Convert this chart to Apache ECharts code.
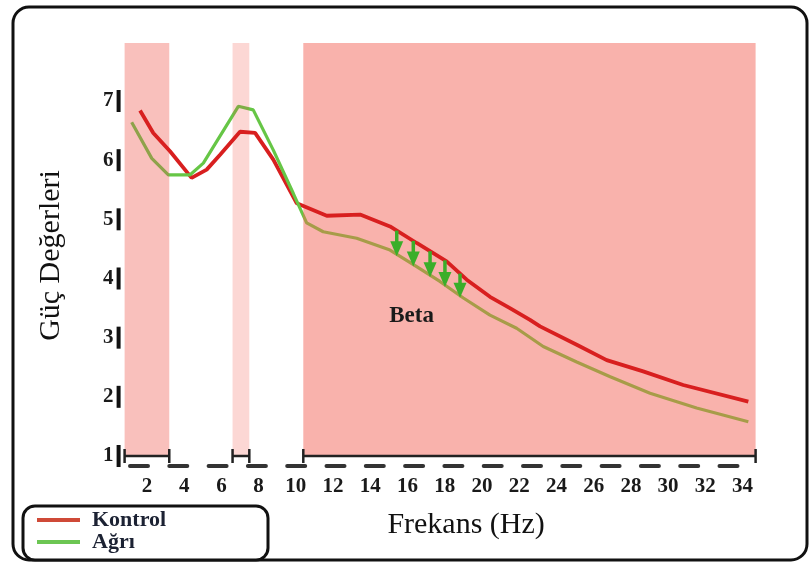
<!DOCTYPE html>
<html>
<head>
<meta charset="utf-8">
<script src="https://cdn.jsdelivr.net/npm/echarts@6/dist/echarts.min.js"></script>
<style>
  html, body { margin: 0; padding: 0; background: #fff; }
  #chart { width: 810px; height: 567px; }
</style>
</head>
<body>
<div id="chart"></div>
<script>
// Spectral power (Güç) against frequency for the control and pain groups
const kontrolHz  = [1.63, 2.34, 3.24, 4.40, 5.21, 5.93, 7.00, 7.81, 8.79, 10.05, 11.66, 13.45, 15.06, 16.49, 18.10, 19.18, 20.43, 21.50, 22.58, 23.12, 25.09, 26.70, 28.66, 30.81, 34.31];
const kontrolGuc = [6.84, 6.46, 6.15, 5.70, 5.84, 6.09, 6.48, 6.46, 6.01, 5.27, 5.06, 5.08, 4.88, 4.60, 4.29, 3.98, 3.69, 3.50, 3.30, 3.19, 2.88, 2.62, 2.43, 2.20, 1.92];
const agriHz  = [1.18, 2.26, 3.15, 4.31, 5.03, 6.91, 7.71, 8.79, 9.86, 10.58, 11.47, 13.27, 15.06, 16.49, 17.74, 19.00, 20.43, 21.86, 23.29, 25.09, 26.89, 29.03, 31.53, 34.31];
const agriGuc = [6.64, 6.03, 5.75, 5.75, 5.95, 6.91, 6.85, 6.17, 5.44, 4.94, 4.79, 4.68, 4.48, 4.20, 3.95, 3.67, 3.38, 3.16, 2.85, 2.59, 2.34, 2.06, 1.81, 1.58];

// Frequency bands (Hz) shaded on the plot
const bandStartHz = [0.8, 6.6, 10.4];
const bandEndHz   = [3.2, 7.5, 34.7];

// Frequencies where the drop from Kontrol to Ağrı is marked with arrows
const arrowHz = [15.42, 16.31, 17.21, 18.01, 18.82];

// Band annotation
const betaLabel = 'Beta';
const betaHz = 16.22;
const betaGuc = 3.37;

// Axis ticks
const xTicks = [2, 4, 6, 8, 10, 12, 14, 16, 18, 20, 22, 24, 26, 28, 30, 32, 34];
const yTicks = [1, 2, 3, 4, 5, 6, 7];

const X_MIN = 0.8, X_MAX = 34.7;
const Y_MIN = 1, Y_MAX = 7.98;

const SERIF = "'Liberation Serif', 'Times New Roman', serif";
const bandColors = ['#f9c0bc', '#fcd7d4', '#f9b2ac'];
const RED = '#d81f1f';
const GREEN = '#66c646';
const ARROW = '#3aae2a';

function interp(xs, ys, x) {
  for (let i = 0; i < xs.length - 1; i++) {
    if (x >= xs[i] && x <= xs[i + 1]) {
      const t = (x - xs[i]) / (xs[i + 1] - xs[i]);
      return ys[i] + t * (ys[i + 1] - ys[i]);
    }
  }
  return ys[ys.length - 1];
}

const kontrolData = kontrolHz.map((x, i) => [x, kontrolGuc[i]]);
const agriData = agriHz.map((x, i) => [x, agriGuc[i]]);
const bandData = bandStartHz.map((s, i) => [s, bandEndHz[i]]);
const arrowData = arrowHz.map(f => [f, interp(kontrolHz, kontrolGuc, f), interp(agriHz, agriGuc, f)]);

const chart = echarts.init(document.getElementById('chart'), null, { renderer: 'canvas' });

chart.setOption({
  animation: false,
  backgroundColor: '#fff',
  grid: { left: 124.6, right: 54.4, top: 43, bottom: 111, containLabel: false },
  xAxis: {
    type: 'value',
    min: X_MIN,
    max: X_MAX,
    offset: 10,
    axisLine: { show: true, lineStyle: { color: '#333', width: 4, type: [18, 21.3], dashOffset: 33.9 } },
    axisTick: { show: false },
    splitLine: { show: false },
    axisLabel: {
      customValues: xTicks,
      margin: 10,
      fontFamily: SERIF,
      fontWeight: 'bold',
      fontSize: 21,
      color: '#1a1a1a'
    },
    name: 'Frekans (Hz)',
    nameLocation: 'middle',
    nameGap: 44,
    nameTextStyle: { fontFamily: SERIF, fontSize: 30, color: '#111', padding: [0, 0, 0, 52] }
  },
  yAxis: {
    type: 'value',
    min: Y_MIN,
    max: Y_MAX,
    axisLine: { show: false },
    axisTick: { show: false },
    splitLine: { show: false },
    axisLabel: {
      customValues: yTicks,
      margin: 4,
      formatter: v => `{n|${v}}{b| }`,
      rich: {
        n: { fontFamily: SERIF, fontWeight: 'bold', fontSize: 21, color: '#1a1a1a', padding: [0, 3, 0, 0], verticalAlign: 'middle' },
        b: { width: 4, height: 22, backgroundColor: '#111', verticalAlign: 'middle' }
      }
    },
    name: 'Güç Değerleri',
    nameLocation: 'middle',
    nameGap: 58,
    nameTextStyle: { fontFamily: SERIF, fontSize: 30, color: '#111', padding: [0, 12, 0, 0] }
  },
  legend: {
    orient: 'vertical',
    left: 37,
    top: 509,
    padding: 0,
    itemGap: 0,
    itemWidth: 43,
    itemHeight: 4,
    icon: 'rect',
    z: 5,
    textStyle: { fontFamily: SERIF, fontWeight: 'bold', fontSize: 22, color: '#1c2233', padding: [0, 0, 0, 7] },
    data: [
      { name: 'Kontrol', itemStyle: { color: '#cf4a38' } },
      { name: 'Ağrı', itemStyle: { color: '#6cc653' } }
    ]
  },
  visualMap: {
    type: 'piecewise',
    show: false,
    seriesIndex: 2,
    dimension: 0,
    pieces: [
      { lt: 3.2, color: '#8fa24a' },
      { gte: 3.2, lt: 6.6, color: GREEN },
      { gte: 6.6, lt: 7.5, color: '#7fae45' },
      { gte: 7.5, lt: 10.4, color: GREEN },
      { gte: 10.4, color: '#a79c48' }
    ]
  },
  graphic: [
    { type: 'rect', z: 0, silent: true, shape: { x: 13, y: 7, width: 794, height: 553, r: 16 },
      style: { fill: 'none', stroke: '#111', lineWidth: 3 } },
    { type: 'rect', z: 0, silent: true, shape: { x: 23, y: 506, width: 245, height: 54, r: 12 },
      style: { fill: '#fff', stroke: '#111', lineWidth: 3 } }
  ],
  series: [
    {
      // shaded bands with brackets along the frequency axis
      type: 'custom',
      name: 'bands',
      z: 1,
      clip: false,
      silent: true,
      encode: { x: [0, 1] },
      data: bandData,
      renderItem: (params, api) => {
        const tl = api.coord([api.value(0), Y_MAX]);
        const br = api.coord([api.value(1), Y_MIN]);
        const y = br[1];
        const cap = 7;
        const ink = { stroke: '#222', lineWidth: 2.5 };
        return {
          type: 'group',
          children: [
            { type: 'rect', shape: { x: tl[0], y: tl[1], width: br[0] - tl[0], height: br[1] - tl[1] },
              style: { fill: bandColors[params.dataIndex] } },
            { type: 'line', shape: { x1: tl[0], y1: y, x2: br[0], y2: y }, style: ink },
            { type: 'line', shape: { x1: tl[0], y1: y - cap, x2: tl[0], y2: y + cap }, style: ink },
            { type: 'line', shape: { x1: br[0], y1: y - cap, x2: br[0], y2: y + cap }, style: ink }
          ]
        };
      }
    },
    {
      type: 'line',
      name: 'Kontrol',
      z: 3,
      data: kontrolData,
      symbol: 'none',
      lineStyle: { color: RED, width: 3.8 },
      itemStyle: { color: RED }
    },
    {
      type: 'line',
      name: 'Ağrı',
      z: 3,
      data: agriData,
      symbol: 'none',
      lineStyle: { width: 3.2 },
      itemStyle: { color: GREEN }
    },
    {
      // arrows from the Kontrol curve down to the Ağrı curve
      type: 'custom',
      name: 'arrows',
      z: 6,
      silent: true,
      encode: { x: 0, y: [1, 2] },
      data: arrowData,
      renderItem: (params, api) => {
        const p1 = api.coord([api.value(0), api.value(1)]);
        const p2 = api.coord([api.value(0), api.value(2)]);
        const head = 13, half = 6.5;
        return {
          type: 'group',
          children: [
            { type: 'line', shape: { x1: p1[0], y1: p1[1], x2: p2[0], y2: p2[1] - head + 2 },
              style: { stroke: ARROW, lineWidth: 3.5 } },
            { type: 'polygon', shape: { points: [[p2[0] - half, p2[1] - head], [p2[0] + half, p2[1] - head], [p2[0], p2[1] + 2]] },
              style: { fill: ARROW } }
          ]
        };
      }
    },
    {
      type: 'custom',
      name: 'beta',
      z: 6,
      silent: true,
      encode: { x: 0, y: 1 },
      data: [[betaHz, betaGuc]],
      renderItem: (params, api) => {
        const p = api.coord([api.value(0), api.value(1)]);
        return {
          type: 'text',
          x: p[0], y: p[1],
          style: { text: betaLabel, fontFamily: SERIF, fontWeight: 'bold', fontSize: 23, fill: '#1a1a1a',
                   align: 'center', verticalAlign: 'middle' }
        };
      }
    }
  ]
});
</script>
</body>
</html>
